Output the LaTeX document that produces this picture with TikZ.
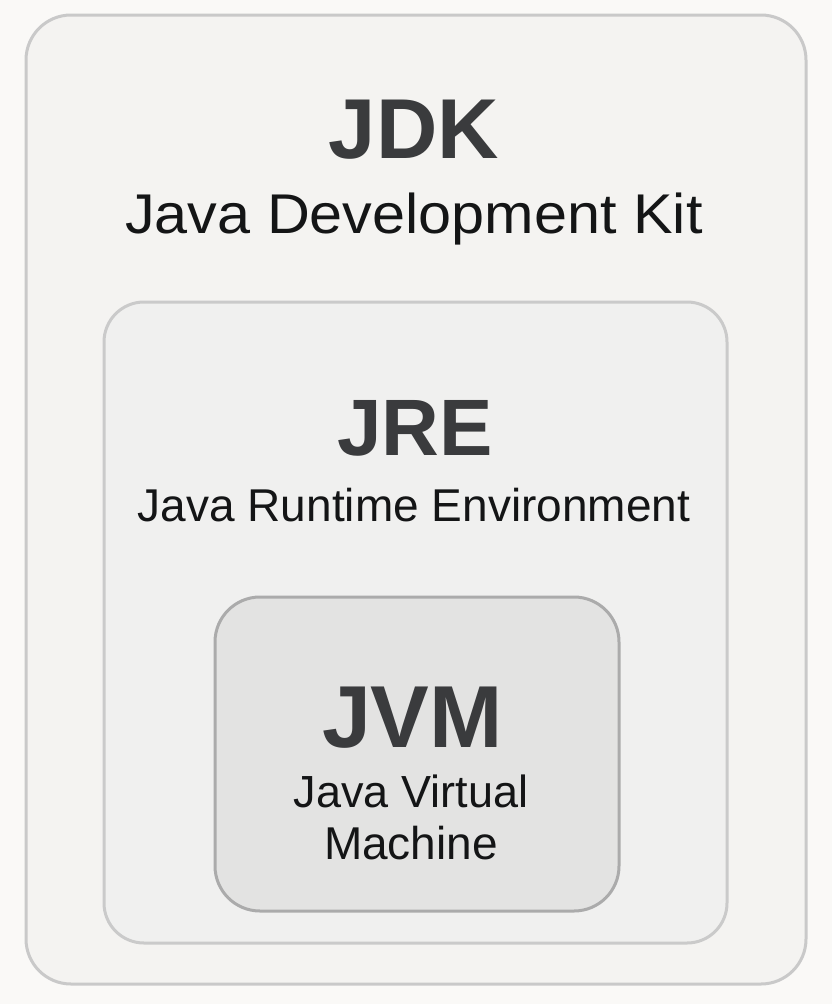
\documentclass[tikz,border=0pt]{standalone}
\usepackage{fontspec}
\setmainfont{Liberation Sans}
\newfontfamily\subfont[FakeStretch=1.06]{Liberation Sans}
\newfontfamily\titlefont{Liberation Sans Bold}
\definecolor{bgc}{HTML}{FAF9F7}
\definecolor{outerfill}{HTML}{F4F3F1}
\definecolor{outerdraw}{HTML}{C9C9C9}
\definecolor{midfill}{HTML}{F0F0EF}
\definecolor{middraw}{HTML}{CACACA}
\definecolor{innerfill}{HTML}{E3E3E2}
\definecolor{innerdraw}{HTML}{ABABAB}
\definecolor{titlec}{HTML}{3A3B3D}
\definecolor{subc}{HTML}{141516}
\tikzset{
  layerbox/.style={line width=3pt},
  titletext/.style={anchor=base, inner sep=0pt, text=titlec},
  subtext/.style={anchor=base, inner sep=0pt, text=subc},
}
\begin{document}
\begin{tikzpicture}[x=1pt,y=-1pt]
\fill[bgc] (0,0) rectangle (832,1004);
\useasboundingbox (0,0) rectangle (832,1004);
% boxes
\draw[layerbox, fill=outerfill, draw=outerdraw, rounded corners=45pt] (26,15) rectangle (806,984);
\draw[layerbox, fill=midfill, draw=middraw, rounded corners=40pt] (104,302) rectangle (727,943);
\draw[layerbox, fill=innerfill, draw=innerdraw, rounded corners=45pt] (215,597) rectangle (619,911);
% texts
\node[titletext, font=\titlefont\fontsize{85}{90}\selectfont] (jdk) at (414,158) {JDK};
\node[subtext, font=\subfont\fontsize{56}{60}\selectfont] (jdksub) at (414,233) {Java Development Kit};
\node[titletext, font=\titlefont\fontsize{80}{85}\selectfont] (jre) at (415,455) {JRE};
\node[subtext, font=\fontsize{46}{50}\selectfont] (jresub) at (414,521) {Java Runtime Environment};
\node[titletext, font=\titlefont\fontsize{88}{92}\selectfont] (jvm) at (412.5,747) {JVM};
\node[subtext, font=\fontsize{45}{50}\selectfont] (jvmsub1) at (411,807) {Java Virtual};
\node[subtext, font=\fontsize{46}{50}\selectfont] (jvmsub2) at (411,859) {Machine};
\end{tikzpicture}
\end{document}
